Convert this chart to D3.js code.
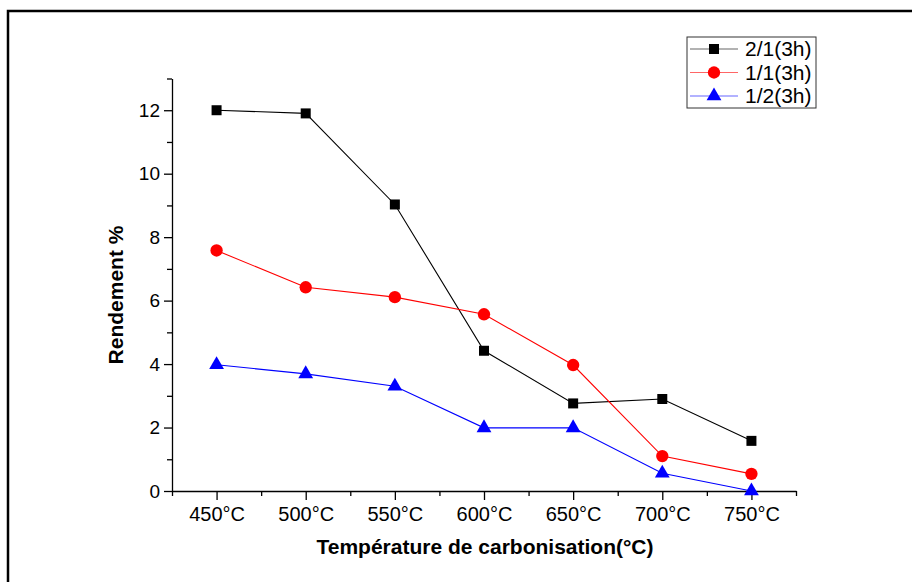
<!DOCTYPE html>
<meta charset="utf-8">
<style>
    body { margin: 0; background: #fff; }
    svg { display: block; font-family: Arial, "Liberation Sans", sans-serif; }
    .axis path, .axis line { stroke: #000; stroke-width: 1.3px; }
    .axis text { fill: #000; }
    .xaxis text { font-size: 20px; }
    .yaxis text { font-size: 19px; }
    .title { font-size: 21px; font-weight: bold; }
    .legend text { font-size: 21px; }
</style>
<body>
<script src="https://cdn.jsdelivr.net/npm/d3@7"></script>
<script>

    var width = 912,
            height = 582;

    // temperatures (°C) and yields (%)
    var temps = [450, 500, 550, 600, 650, 700, 750];
    var ratio21 = [12.0, 11.9, 9.03, 4.42, 2.76, 2.9, 1.58];
    var ratio11 = [7.58, 6.42, 6.11, 5.57, 3.97, 1.1, 0.54];
    var ratio12 = [3.98, 3.69, 3.3, 1.99, 1.99, 0.56, 0.0];

    var series = [
        {name: "2/1(3h)", values: ratio21, color: "#000", symbol: d3.symbolSquare, size: 100},
        {name: "1/1(3h)", values: ratio11, color: "#ff0000", symbol: d3.symbolCircle, size: 120},
        {name: "1/2(3h)", values: ratio12, color: "#0000ff", symbol: d3.symbolTriangle, size: 95}
    ];

    var svg = d3.select("body").append("svg")
            .attr("width", width)
            .attr("height", height);

    // outer frame
    svg.append("rect")
            .attr("x", 8).attr("y", 11)
            .attr("width", 940).attr("height", 620)
            .attr("fill", "none")
            .attr("stroke", "#000")
            .attr("stroke-width", 2.5);

    var x = d3.scaleLinear().domain([425, 775]).range([172, 796]);
    var y = d3.scaleLinear().domain([0, 13]).range([491, 78.5]);

    // minor ticks first, majors on top
    svg.append("g")
            .attr("class", "axis")
            .attr("transform", "translate(0,491)")
            .call(d3.axisBottom(x).tickValues(d3.range(425, 776, 50)).tickSize(5).tickFormat(""))
            .select(".domain").remove();
    svg.append("g")
            .attr("class", "axis xaxis")
            .attr("transform", "translate(0,491)")
            .call(d3.axisBottom(x).tickValues(temps).tickSize(9).tickSizeOuter(0).tickPadding(7)
                    .tickFormat(function(d) { return d + "°C"; }));

    svg.append("g")
            .attr("class", "axis")
            .attr("transform", "translate(172,0)")
            .call(d3.axisLeft(y).tickValues([1, 3, 5, 7, 9, 11, 13]).tickSize(5).tickFormat(""))
            .select(".domain").remove();
    svg.append("g")
            .attr("class", "axis yaxis")
            .attr("transform", "translate(172,0)")
            .call(d3.axisLeft(y).tickValues(d3.range(0, 13, 2)).tickSize(8).tickSizeOuter(0).tickPadding(4));

    svg.append("text")
            .attr("class", "title")
            .attr("x", 485).attr("y", 554)
            .attr("text-anchor", "middle")
            .text("Température de carbonisation(°C)");

    svg.append("text")
            .attr("class", "title")
            .attr("transform", "translate(123,295)rotate(-90)")
            .attr("text-anchor", "middle")
            .text("Rendement %");

    var line = d3.line()
            .x(function(d, i) { return x(temps[i]); })
            .y(function(d) { return y(d); });

    series.forEach(function(s) {
        svg.append("path")
                .attr("d", line(s.values))
                .attr("fill", "none")
                .attr("stroke", s.color)
                .attr("stroke-width", 1.1);

        svg.selectAll(null)
                .data(s.values)
                .enter().append("path")
                .attr("d", d3.symbol().type(s.symbol).size(s.size))
                .attr("transform", function(d, i) { return "translate(" + x(temps[i]) + "," + y(d) + ")"; })
                .attr("fill", s.color);
    });

    // legend
    var lg = svg.append("g").attr("class", "legend");
    lg.append("rect")
            .attr("x", 687).attr("y", 37)
            .attr("width", 129).attr("height", 71)
            .attr("fill", "#fff")
            .attr("stroke", "#333")
            .attr("stroke-width", 1);

    series.forEach(function(s, i) {
        var cy = 49 + i * 23.5;
        lg.append("line")
                .attr("x1", 690).attr("x2", 738)
                .attr("y1", cy).attr("y2", cy)
                .attr("stroke", s.color)
                .attr("stroke-opacity", 0.6)
                .attr("stroke-width", 1.1);
        lg.append("path")
                .attr("d", d3.symbol().type(s.symbol).size(s.size))
                .attr("transform", "translate(714," + cy + ")")
                .attr("fill", s.color);
        lg.append("text")
                .attr("x", 745).attr("y", cy + 7)
                .text(s.name);
    });
</script>
</body>
</html>
